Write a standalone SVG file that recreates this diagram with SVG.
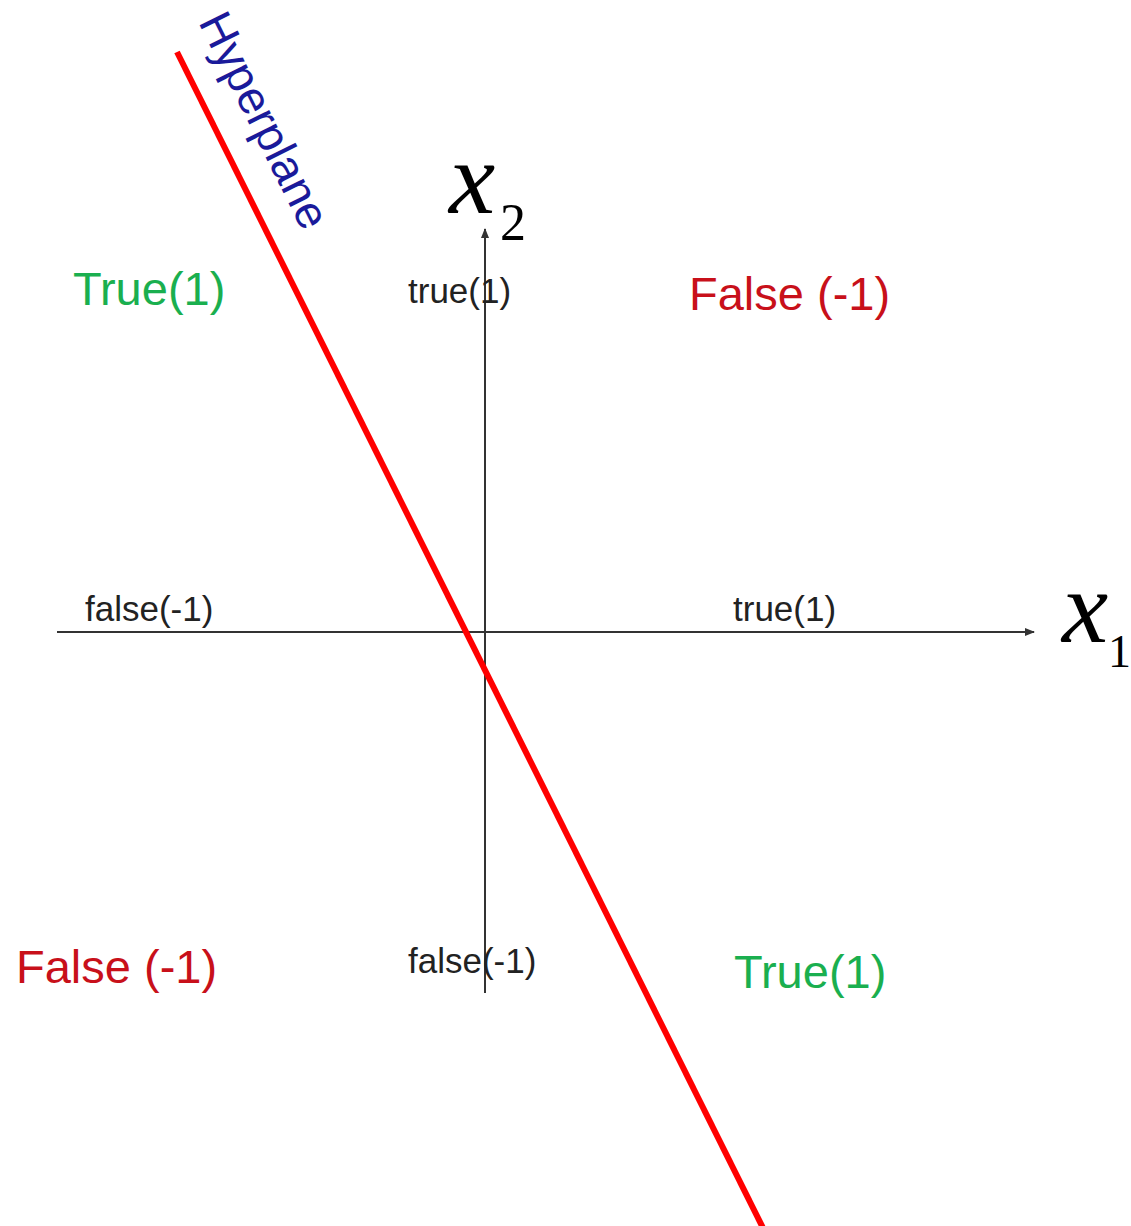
<svg xmlns="http://www.w3.org/2000/svg" width="1131" height="1226" viewBox="0 0 1131 1226">
<style>
.axis{stroke:#333;stroke-width:2;fill:none}
.small{font-family:"Liberation Sans",Arial,sans-serif;font-size:35px;fill:#222}
.big{font-family:"Liberation Sans",Arial,sans-serif;font-size:47px}
.green{fill:#1aaf4f}
.red{fill:#c8101a}
.math{font-family:"Liberation Serif","Times New Roman",serif;fill:#000}
</style>
<defs>
<marker id="arr" markerWidth="10" markerHeight="8" refX="9" refY="4" orient="auto" markerUnits="userSpaceOnUse">
<path d="M0,0 L10,4 L0,8 Z" fill="#333"/>
</marker>
</defs>
<rect width="1131" height="1226" fill="#fff"/>
<g id="connectors">
<line class="axis" x1="57" y1="632" x2="1034" y2="632" marker-end="url(#arr)"/>
<line class="axis" x1="485" y1="993" x2="485" y2="229" marker-end="url(#arr)"/>
</g>
<g id="hyperplane">
<line x1="177" y1="52" x2="763" y2="1228" stroke="#ff0000" stroke-width="6"/>
<text transform="translate(198,22) rotate(63.5)" font-family="Liberation Sans,Arial,sans-serif" font-size="46" fill="#1a1a9a">Hyperplane</text>
</g>
<g id="axis-x2">
<text class="math" x="449" y="213" font-size="104" font-style="italic">x</text>
<text class="math" x="500" y="240" font-size="52">2</text>
</g>
<g id="axis-x1">
<text class="math" x="1062" y="642" font-size="104" font-style="italic">x</text>
<text class="math" x="1108" y="667" font-size="46">1</text>
</g>
<g id="label-true-top"><text class="small" x="408" y="303">true(1)</text></g>
<g id="label-false-left"><text class="small" x="85" y="621">false(-1)</text></g>
<g id="label-true-right"><text class="small" x="733" y="621">true(1)</text></g>
<g id="label-false-bottom"><text class="small" x="408" y="973">false(-1)</text></g>
<g id="region-tl"><text class="big green" x="73" y="305">True(1)</text></g>
<g id="region-tr"><text class="big red" x="689" y="310">False (-1)</text></g>
<g id="region-bl"><text class="big red" x="16" y="983">False (-1)</text></g>
<g id="region-br"><text class="big green" x="734" y="988">True(1)</text></g>
</svg>
